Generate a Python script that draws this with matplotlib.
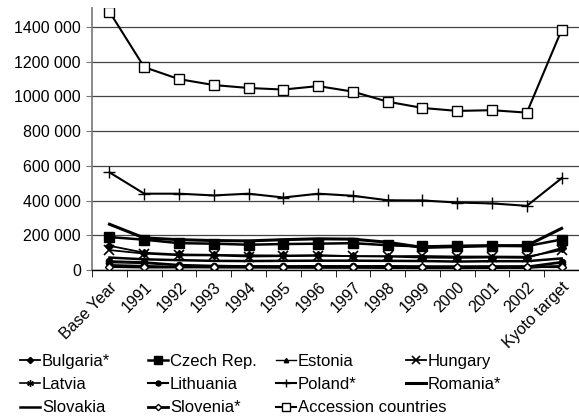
import numpy as np
import matplotlib.pyplot as plt
from matplotlib.ticker import FuncFormatter, MultipleLocator

plt.rcParams['font.family'] = ['Liberation Sans', 'DejaVu Sans']

categories = ['Base Year', '1991', '1992', '1993', '1994', '1995', '1996', '1997',
              '1998', '1999', '2000', '2001', '2002', 'Kyoto target']

bulgaria = [140000, 100000, 90000, 88000, 85000, 84000, 86000, 80000, 78000, 72000, 70000, 72000, 70000, 127000]
czech = [190000, 175000, 155000, 152000, 146000, 150000, 152000, 155000, 143000, 136000, 140000, 141000, 138000, 176000]
estonia = [43000, 38000, 26000, 24000, 23000, 21000, 22000, 21000, 20000, 19000, 18000, 19000, 19000, 40000]
hungary = [115000, 95000, 85000, 84000, 78000, 80000, 82000, 80000, 80000, 81000, 78000, 78000, 77000, 115000]
latvia = [30000, 25000, 18000, 15000, 14000, 13000, 12000, 12000, 11000, 10000, 10000, 11000, 11000, 24000]
lithuania = [51000, 45000, 30000, 25000, 22000, 22000, 23000, 22000, 23000, 20000, 19000, 19000, 20000, 47000]
poland = [563000, 440000, 440000, 430000, 440000, 418000, 440000, 428000, 402000, 401000, 389000, 384000, 370000, 529000]
romania = [264000, 185000, 175000, 170000, 168000, 175000, 180000, 178000, 160000, 130000, 135000, 140000, 141000, 240000]
slovakia = [72000, 62000, 57000, 53000, 52000, 53000, 54000, 54000, 53000, 52000, 49000, 51000, 51000, 67000]
slovenia = [20000, 17000, 17000, 18000, 18000, 18000, 19000, 19000, 19000, 19000, 19000, 20000, 20000, 19000]
accession = [1488000, 1169000, 1100000, 1066000, 1049000, 1040000, 1060000, 1028000, 970000, 934000, 917000, 921000, 907000, 1383000]

x = np.arange(len(categories))

fig = plt.figure(figsize=(5.79, 4.2), dpi=100)
ax = fig.add_axes([0.159, 0.357, 0.841, 0.624])

ax.plot(x, bulgaria, color='black', lw=1.3, marker='D', ms=4, label='Bulgaria*')
ax.plot(x, czech, color='black', lw=1.8, marker='s', ms=7, label='Czech Rep.')
ax.plot(x, estonia, color='black', lw=1.0, marker='^', ms=4, label='Estonia')
ax.plot(x, hungary, color='black', lw=1.3, marker='x', ms=7, mew=1.2, label='Hungary')
ax.plot(x, latvia, color='black', lw=1.2, marker=(6, 2, 0), ms=6, label='Latvia')
ax.plot(x, lithuania, color='black', lw=1.5, marker='o', ms=4.5, label='Lithuania')
ax.plot(x, poland, color='black', lw=1.5, marker='+', ms=8, mew=1.0, label='Poland*')
ax.plot(x, romania, color='black', lw=2.2, label='Romania*')
ax.plot(x, slovakia, color='black', lw=1.8, label='Slovakia')
ax.plot(x, slovenia, color='black', lw=2.0, marker='D', ms=4, mfc='white', mew=1.0, label='Slovenia*')
ax.plot(x, accession, color='black', lw=1.5, marker='s', ms=6.5, mfc='white', mew=1.0, label='Accession countries')

ax.set_xlim(-0.5, len(categories) - 0.5)
ax.set_ylim(0, 1510000)
ax.yaxis.set_major_locator(MultipleLocator(200000))


def fmt(v, p):
    v = int(v)
    if v < 1000:
        return str(v)
    return f'{v // 1000} {v % 1000:03d}'


ax.yaxis.set_major_formatter(FuncFormatter(fmt))
ax.grid(axis='y', color='#444444', lw=0.9)
ax.set_axisbelow(True)

ax.set_xticks(x)
ax.set_xticklabels(categories, rotation=45, ha='right', rotation_mode='anchor', fontsize=11.5)
ax.set_xticks(np.arange(-0.5, len(categories)), minor=True)
ax.tick_params(axis='x', which='major', length=0, pad=7)
ax.tick_params(axis='x', which='minor', length=5, direction='out', color='black')
ax.tick_params(axis='y', length=4, color='#777777', labelsize=11.5, pad=4)

for s in ['top', 'right']:
    ax.spines[s].set_visible(False)
ax.spines['left'].set_color('#777777')
ax.spines['left'].set_linewidth(1.2)
ax.spines['bottom'].set_color('black')
ax.spines['bottom'].set_linewidth(1.0)

# legend: four fixed-width columns like the original
handles, labels = ax.get_legend_handles_labels()
columns = [[0, 4, 8], [1, 5, 9], [2, 6, 10], [3, 7]]
col_x = [20, 148, 276, 406]
for idx, cx in zip(columns, col_x):
    fig.legend([handles[i] for i in idx], [labels[i] for i in idx],
               loc='upper left', bbox_to_anchor=(cx / 579, 1 - 354 / 420),
               frameon=False, fontsize=12, handlelength=1.2, handletextpad=0.12,
               labelspacing=0.49, borderpad=0, borderaxespad=0, markerscale=0.8)

fig.savefig('out.png', dpi=100)
